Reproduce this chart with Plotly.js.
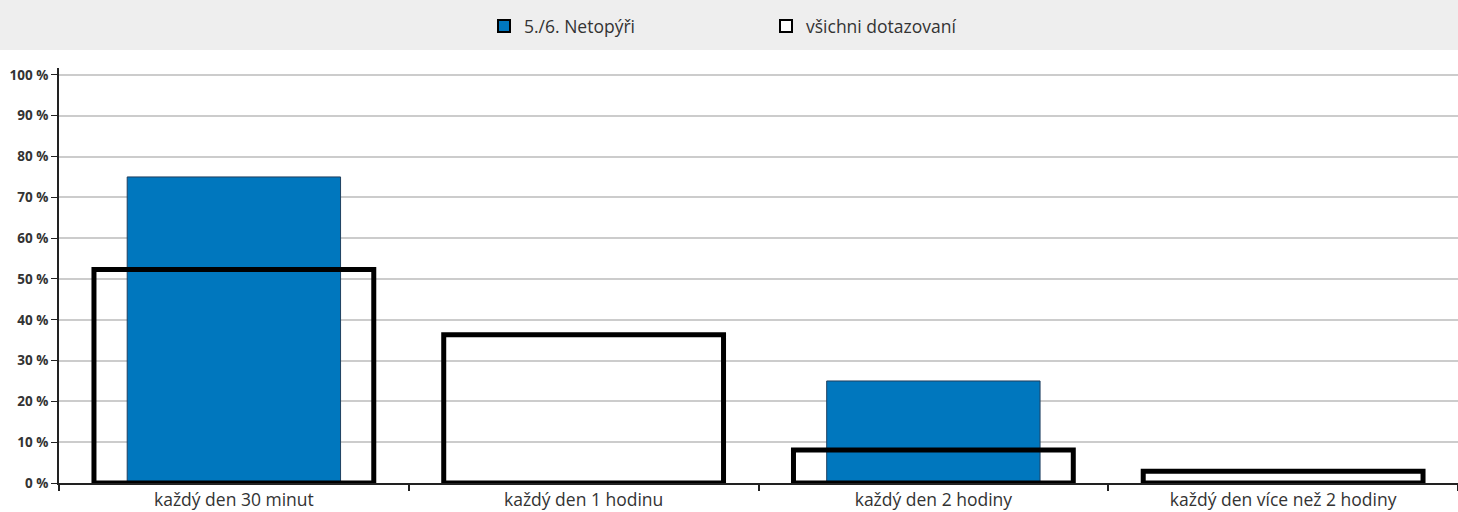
<!DOCTYPE html>
<html>
<head>
<meta charset="utf-8">
<script src="https://cdn.plot.ly/plotly-3.0.1.min.js"></script>
<style>html,body{margin:0;padding:0;background:#fff;}#chart{width:1458px;height:512px;}</style>
</head>
<body>
<div id="chart"></div>
<script>
const categories = ["každý den 30 minut", "každý den 1 hodinu", "každý den 2 hodiny", "každý den více než 2 hodiny"];
const seriesNames = ["5./6. Netopýři", "všichni dotazovaní"];
const groupValues = [75, 0, 25, 0];
const allValues = [52.3, 36.3, 8.1, 2.9];
const yTickValues = [0, 10, 20, 30, 40, 50, 60, 70, 80, 90, 100];

const traces = [
  {
    type: 'bar', name: seriesNames[0], x: categories, y: groupValues,
    width: 0.61, showlegend: false,
    marker: {color: '#0077be', line: {color: '#1f3f5f', width: 1}},
    hoverinfo: 'skip'
  },
  {
    type: 'bar', name: seriesNames[1], x: categories, y: allValues,
    width: 0.80, showlegend: false,
    marker: {color: 'rgba(255,255,255,0)', line: {color: '#000000', width: 5}},
    hoverinfo: 'skip'
  },
  // legend entries: same data on a hidden axis whose range shows nothing, so the legend symbols get a 2px border
  {
    type: 'bar', name: seriesNames[0], x: categories, y: groupValues, yaxis: 'y2',
    marker: {color: '#0077be', line: {color: '#000000', width: 2}}, hoverinfo: 'skip'
  },
  {
    type: 'bar', name: seriesNames[1], x: categories, y: allValues, yaxis: 'y2',
    marker: {color: '#ffffff', line: {color: '#000000', width: 2}}, hoverinfo: 'skip'
  }
];

const plotW = 1458 - 59, plotH = 483 - 68;
const layout = {
  width: 1458, height: 512,
  margin: {l: 59, r: 0, t: 68, b: 29, pad: 0},
  paper_bgcolor: '#ffffff', plot_bgcolor: '#ffffff',
  barmode: 'overlay',
  showlegend: true,
  font: {family: '"Open Sans", "Noto Sans", sans-serif', color: '#333333'},
  legend: {
    orientation: 'h', x: (484 - 59) / plotW, xanchor: 'left',
    y: 1 + (68 - 26) / plotH, yanchor: 'middle',
    bgcolor: 'rgba(0,0,0,0)', font: {size: 17.5, color: '#333333'},
    entrywidth: 237, entrywidthmode: 'pixels', traceorder: 'normal'
  },
  shapes: [{
    type: 'rect', xref: 'paper', yref: 'paper', layer: 'below',
    x0: -59 / plotW, x1: 1, y0: 1 + (68 - 50) / plotH, y1: 1 + 68 / plotH,
    fillcolor: '#eeeeee', line: {width: 0}
  }],
  xaxis: {
    type: 'category', categoryarray: categories, categoryorder: 'array',
    tickson: 'boundaries', ticks: 'outside', ticklen: 6, tickwidth: 2, tickcolor: '#222',
    ticklabelstandoff: 0,
    showline: true, linecolor: '#222', linewidth: 2, showgrid: false, zeroline: false,
    tickfont: {size: 17.5, color: '#333333'}, fixedrange: true
  },
  yaxis: {
    range: [0, 101.7], tickvals: yTickValues, ticktext: yTickValues.map(v => v + ' %'),
    ticks: 'outside', ticklen: 6, tickwidth: 1, tickcolor: '#222',
    showline: true, linecolor: '#222', linewidth: 2,
    showgrid: true, gridcolor: '#cccccc', gridwidth: 2, zeroline: false,
    tickfont: {size: 13.5, color: '#333333', weight: 'bold'}, fixedrange: true
  },
  yaxis2: {overlaying: 'y', range: [-20, -10], visible: false, fixedrange: true}
};

Plotly.newPlot('chart', traces, layout, {displayModeBar: false, staticPlot: true});
</script>
</body>
</html>
